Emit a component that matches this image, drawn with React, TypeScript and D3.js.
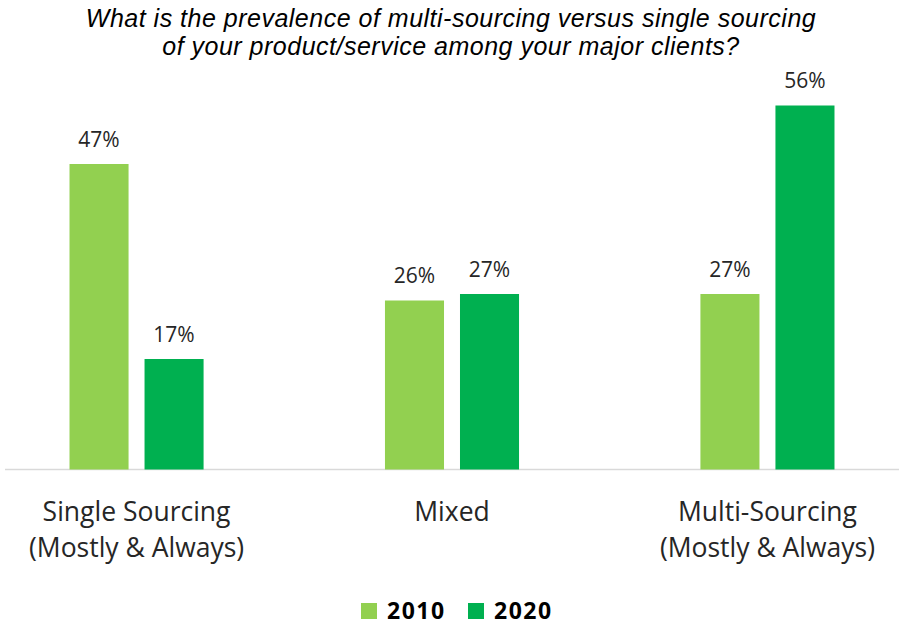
import React, { useEffect, useRef } from "react";
import * as d3 from "d3";

const categories = ["Single Sourcing|(Mostly & Always)", "Mixed", "Multi-Sourcing|(Mostly & Always)"];
const seriesNames = ["2010", "2020"];
const values2010 = [47, 26, 27];
const values2020 = [17, 27, 56];
const colors = ["#92d050", "#00b050"];
const titleLines = [
  "What is the prevalence of multi-sourcing versus single sourcing",
  "of your product/service among your major clients?",
];

const W = 899;
const H = 625;
const labelFont = "'Open Sans', sans-serif";

export default function App() {
  const ref = useRef<SVGSVGElement>(null);

  useEffect(() => {
    const svg = d3.select(ref.current);
    svg.selectAll("*").remove();

    const baseY = 469.5;
    const x0 = d3.scaleBand().domain(categories).range([5, 899]).paddingInner(0.575).paddingOuter(0.2045);
    const x1 = d3.scaleBand().domain(seriesNames).range([0, x0.bandwidth()]).paddingInner(0.213);
    const y = d3.scaleLinear().domain([0, 56]).range([baseY, 105.5]);

    // title
    svg
      .selectAll("text.title")
      .data(titleLines)
      .enter()
      .append("text")
      .attr("class", "title")
      .attr("x", 451)
      .attr("y", (d, i) => 26.5 + i * 28.5)
      .attr("text-anchor", "middle")
      .style("font-family", "'Liberation Sans', Arial, sans-serif")
      .style("font-style", "italic")
      .style("font-size", "25px")
      .style("letter-spacing", "0.5px")
      .style("fill", "#000")
      .text((d) => d);

    // baseline
    svg
      .append("line")
      .attr("x1", 5)
      .attr("x2", 899)
      .attr("y1", baseY)
      .attr("y2", baseY)
      .attr("stroke", "#d9d9d9")
      .attr("stroke-width", 1.5);

    const rows = categories.map((c, i) => ({
      cat: c,
      vals: [values2010[i], values2020[i]],
    }));

    const groups = svg
      .selectAll("g.grp")
      .data(rows)
      .enter()
      .append("g")
      .attr("class", "grp")
      .attr("transform", (d) => `translate(${x0(d.cat)},0)`);

    const bars = groups
      .selectAll("g.bar")
      .data((d) => d.vals.map((v, j) => ({ key: seriesNames[j], v, j })))
      .enter()
      .append("g");

    bars
      .append("rect")
      .attr("x", (d) => x1(d.key)!)
      .attr("y", (d) => y(d.v))
      .attr("width", x1.bandwidth())
      .attr("height", (d) => baseY - y(d.v))
      .attr("fill", (d) => colors[d.j]);

    bars
      .append("text")
      .attr("x", (d) => x1(d.key)! + x1.bandwidth() / 2)
      .attr("y", (d) => y(d.v) - 17.5)
      .attr("text-anchor", "middle")
      .style("font-family", labelFont)
      .style("font-size", "21px")
      .style("fill", "#262626")
      .text((d) => d.v + "%");

    // category labels
    groups
      .selectAll("text.cat")
      .data((d) => d.cat.split("|"))
      .enter()
      .append("text")
      .attr("class", "cat")
      .attr("x", x0.bandwidth() / 2)
      .attr("y", (d, i) => 521 + i * 35.5)
      .attr("text-anchor", "middle")
      .style("font-family", labelFont)
      .style("font-size", "26.5px")
      .style("fill", "#262626")
      .text((d) => d);

    // legend
    const legendX = [361, 468];
    const legend = svg
      .selectAll("g.leg")
      .data(seriesNames)
      .enter()
      .append("g")
      .attr("class", "leg")
      .attr("transform", (d, i) => `translate(${legendX[i]},603)`);
    legend
      .append("rect")
      .attr("width", 16)
      .attr("height", 16)
      .attr("fill", (d, i) => colors[i]);
    legend
      .append("text")
      .attr("x", 26)
      .attr("y", 16)
      .style("font-family", labelFont)
      .style("font-weight", "bold")
      .style("font-size", "23px")
      .style("letter-spacing", "1.5px")
      .style("fill", "#000")
      .text((d) => d);
  }, []);

  return (
    <svg ref={ref} width={W} height={H} style={{ position: "absolute", left: 0, top: 0, background: "#fff" }} />
  );
}
